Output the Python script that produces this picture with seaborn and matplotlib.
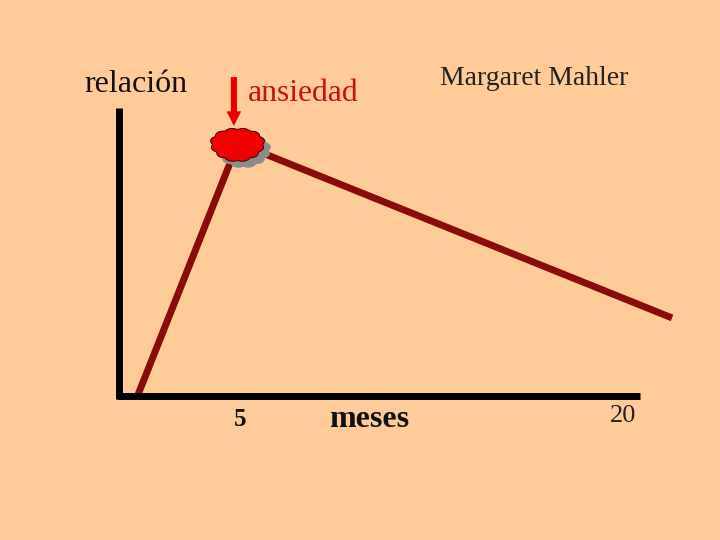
import matplotlib
matplotlib.use('Agg')
import matplotlib.pyplot as plt
from matplotlib.path import Path
import numpy as np
import pandas as pd
import seaborn as sns

# curve
months = [1.0, 4.94, 21.96]
relacion = [0.0, 98.8, 30.5]
peak_month = 4.94
peak_rel = 98.8

bg = '#FFCC99'
sns.set_theme(style='white', rc={'figure.facecolor': bg, 'axes.facecolor': bg})
plt.rcParams['font.family'] = ['Liberation Serif', 'DejaVu Serif']

df = pd.DataFrame({'meses': months, 'relacion': relacion})

fig = plt.figure(figsize=(7.2, 5.4), dpi=100)
ax = fig.add_axes([0, 0, 1, 1])
ax.set_xlim(-4.39, 23.84)
ax.set_ylim(-56.25, 154.7)

# the two axis lines
for side in ['top', 'right']:
    ax.spines[side].set_visible(False)
ax.spines['left'].set_position(('data', 0.27))
ax.spines['left'].set_bounds(-1, 112.5)
ax.spines['bottom'].set_position(('data', 0.1))
ax.spines['bottom'].set_bounds(0.2, 20.7)
for side in ['left', 'bottom']:
    ax.spines[side].set_linewidth(5)
    ax.spines[side].set_color('black')
    ax.spines[side].set_zorder(3)
    ax.spines[side].set_capstyle('butt')
ax.set_xticks([])
ax.set_yticks([])

sns.lineplot(data=df, x='meses', y='relacion', color='#8B0A0A', linewidth=5,
             ax=ax, zorder=2, solid_capstyle='butt', solid_joinstyle='miter')

# bumpy cloud marker
angles = np.linspace(0, 2 * np.pi, 160)
bumps = 1 + 0.09 * np.abs(np.sin(angles * 6)) + 0.03 * np.sin(angles * 3)
cloud = Path(np.column_stack([bumps * np.cos(angles), 0.62 * bumps * np.sin(angles)]))

shadow = pd.DataFrame({'meses': [peak_month + 0.18], 'relacion': [peak_rel - 2.7]})
peak = pd.DataFrame({'meses': [peak_month - 0.04], 'relacion': [peak_rel - 0.3]})
sns.scatterplot(data=shadow, x='meses', y='relacion', marker=cloud, s=1500, color='#8C8C8C',
                edgecolor='#8C8C8C', linewidth=0.5, ax=ax, zorder=4, legend=False)
sns.scatterplot(data=peak, x='meses', y='relacion', marker=cloud, s=1500, color='#F00000',
                edgecolor='#3A0000', linewidth=0.7, ax=ax, zorder=5, legend=False)

# red arrow to the peak
ax.annotate('', xy=(4.78, 105.5), xytext=(4.78, 124.6), zorder=6,
            arrowprops=dict(width=4.4, headwidth=10.5, headlength=10.5, facecolor='#E60000',
                            edgecolor='none', shrink=0))

ax.text(0.94, 121.7, 'relación', fontsize=23, color='#111111', ha='center', va='center')
ax.text(7.5, 118.2, 'ansiedad', fontsize=22.8, color='#C81010', ha='center', va='center')
ax.text(16.55, 124.1, 'Margaret Mahler', fontsize=20, color='#222222', ha='center', va='center')
ax.text(5.02, -9.2, '5', fontsize=18, fontweight='bold', color='#111111', ha='center', va='center')
ax.text(10.08, -9.0, 'meses', fontsize=23, fontweight='bold', color='#111111', ha='center', va='center')
ax.text(20.03, -7.8, '20', fontsize=19, color='#222222', ha='center', va='center')

ax.set_xlabel('')
ax.set_ylabel('')

fig.savefig('out.png', dpi=100, facecolor=bg)
